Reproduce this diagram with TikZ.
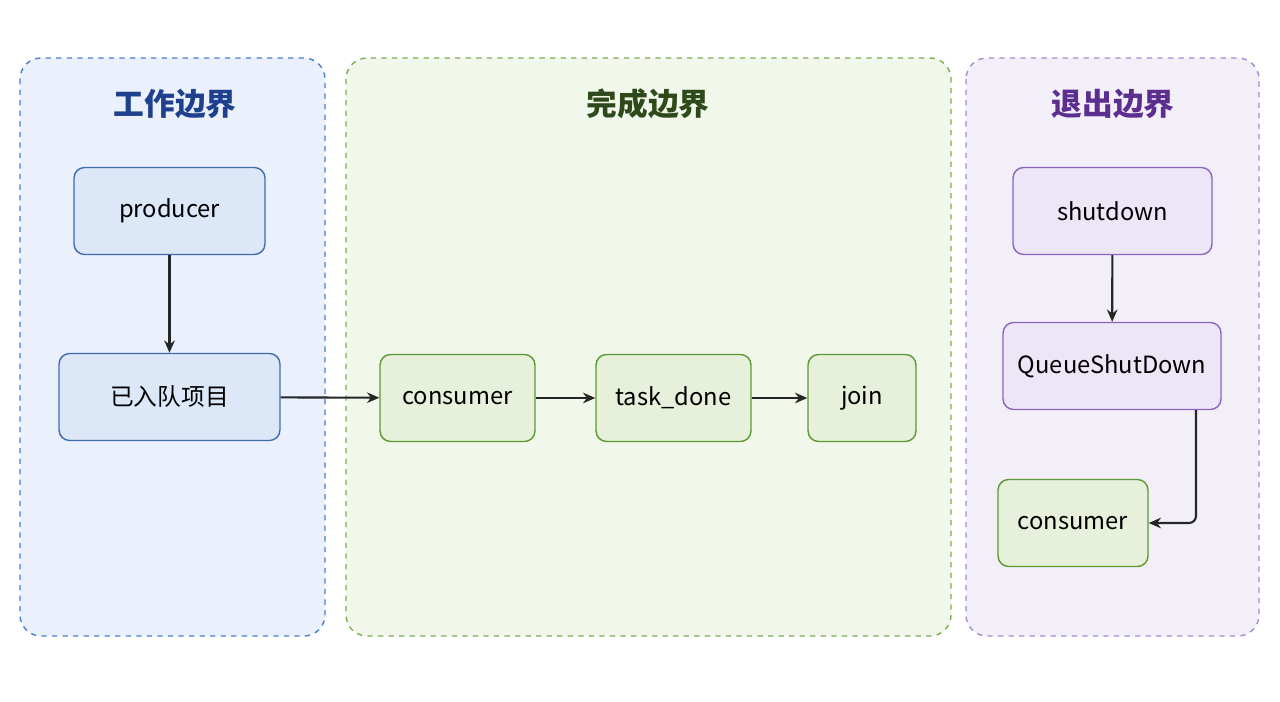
\documentclass[tikz,border=0pt]{standalone}
\usepackage{fontspec}
\setmainfont{Noto Sans CJK SC}
\usetikzlibrary{arrows.meta,positioning}
\definecolor{wkfill}{HTML}{EAF1FC}\definecolor{wkdraw}{HTML}{4A7FD0}
\definecolor{wktext}{HTML}{1F3F8F}\definecolor{wknode}{HTML}{DCE7F8}
\definecolor{dnfill}{HTML}{F2F7EC}\definecolor{dndraw}{HTML}{7AAF50}
\definecolor{dntext}{HTML}{2E4A1A}\definecolor{dnnode}{HTML}{E6F0DA}
\definecolor{dnline}{HTML}{5A9A30}
\definecolor{exfill}{HTML}{F3EFF9}\definecolor{exdraw}{HTML}{A58BD0}
\definecolor{extext}{HTML}{5B2E8F}\definecolor{exnode}{HTML}{EDE6F6}
\definecolor{exline}{HTML}{8C63C0}
\begin{document}
\begin{tikzpicture}[x=0.02cm,y=-0.02cm,>={Stealth[length=7pt,width=6pt]},
    thick,
    panel/.style={draw,dashed,rounded corners=12pt,line width=0.8pt},
    title/.style={font=\fontsize{17.5}{20}\selectfont\bfseries},
    main node/.style={draw,rounded corners=6pt,line width=0.8pt,
        font=\fontsize{13.5}{16}\selectfont,minimum height=1.74cm},
    flow/.style={->,draw=black!85,line width=1.2pt}]
  \useasboundingbox (0,0) rectangle (1280,702);
  % panels
  \draw[panel,draw=wkdraw,fill=wkfill] (20,58) rectangle (325,636);
  \draw[panel,draw=dndraw,fill=dnfill] (346,58) rectangle (951,636);
  \draw[panel,draw=exdraw,fill=exfill] (966,58) rectangle (1259,636);
  \node[title,text=wktext] (wtitle) at (175,104) {工作边界};
  \node[title,text=dntext] (dtitle) at (648,104) {完成边界};
  \node[title,text=extext] (etitle) at (1113,104) {退出边界};
  % work boundary
  \node[main node,fill=wknode,draw=wkdraw!85!black,minimum width=3.82cm] (producer) at (169.5,211) {producer};
  \node[main node,fill=wknode,draw=wkdraw!85!black,minimum width=4.42cm] (queued) at (169.5,397) {已入队项目};
  % done boundary
  \node[main node,fill=dnnode,draw=dnline,minimum width=3.1cm] (consumer) at (457.5,398) {consumer};
  \node[main node,fill=dnnode,draw=dnline,minimum width=3.1cm] (taskdone) at (673.5,398) {task\_done};
  \node[main node,fill=dnnode,draw=dnline,minimum width=2.16cm] (join) at (862,398) {join};
  % exit boundary
  \node[main node,fill=exnode,draw=exline,minimum width=3.98cm] (shutdown) at (1112.5,211) {shutdown};
  \node[main node,fill=exnode,draw=exline,minimum width=4.36cm] (qshut) at (1112,366) {QueueShutDown};
  \node[main node,fill=dnnode,draw=dnline,minimum width=3cm] (consumerb) at (1073,523) {consumer};
  \coordinate (qout) at (1196,410);
  % connectors
  \draw[flow] (producer) -- (queued);
  \draw[flow] (queued) -- (consumer);
  \draw[flow] (consumer) -- (taskdone);
  \draw[flow] (taskdone) -- (join);
  \draw[flow] (shutdown) -- (qshut);
  \draw[flow,rounded corners=4pt] (qout) |- (consumerb);
\end{tikzpicture}
\end{document}
